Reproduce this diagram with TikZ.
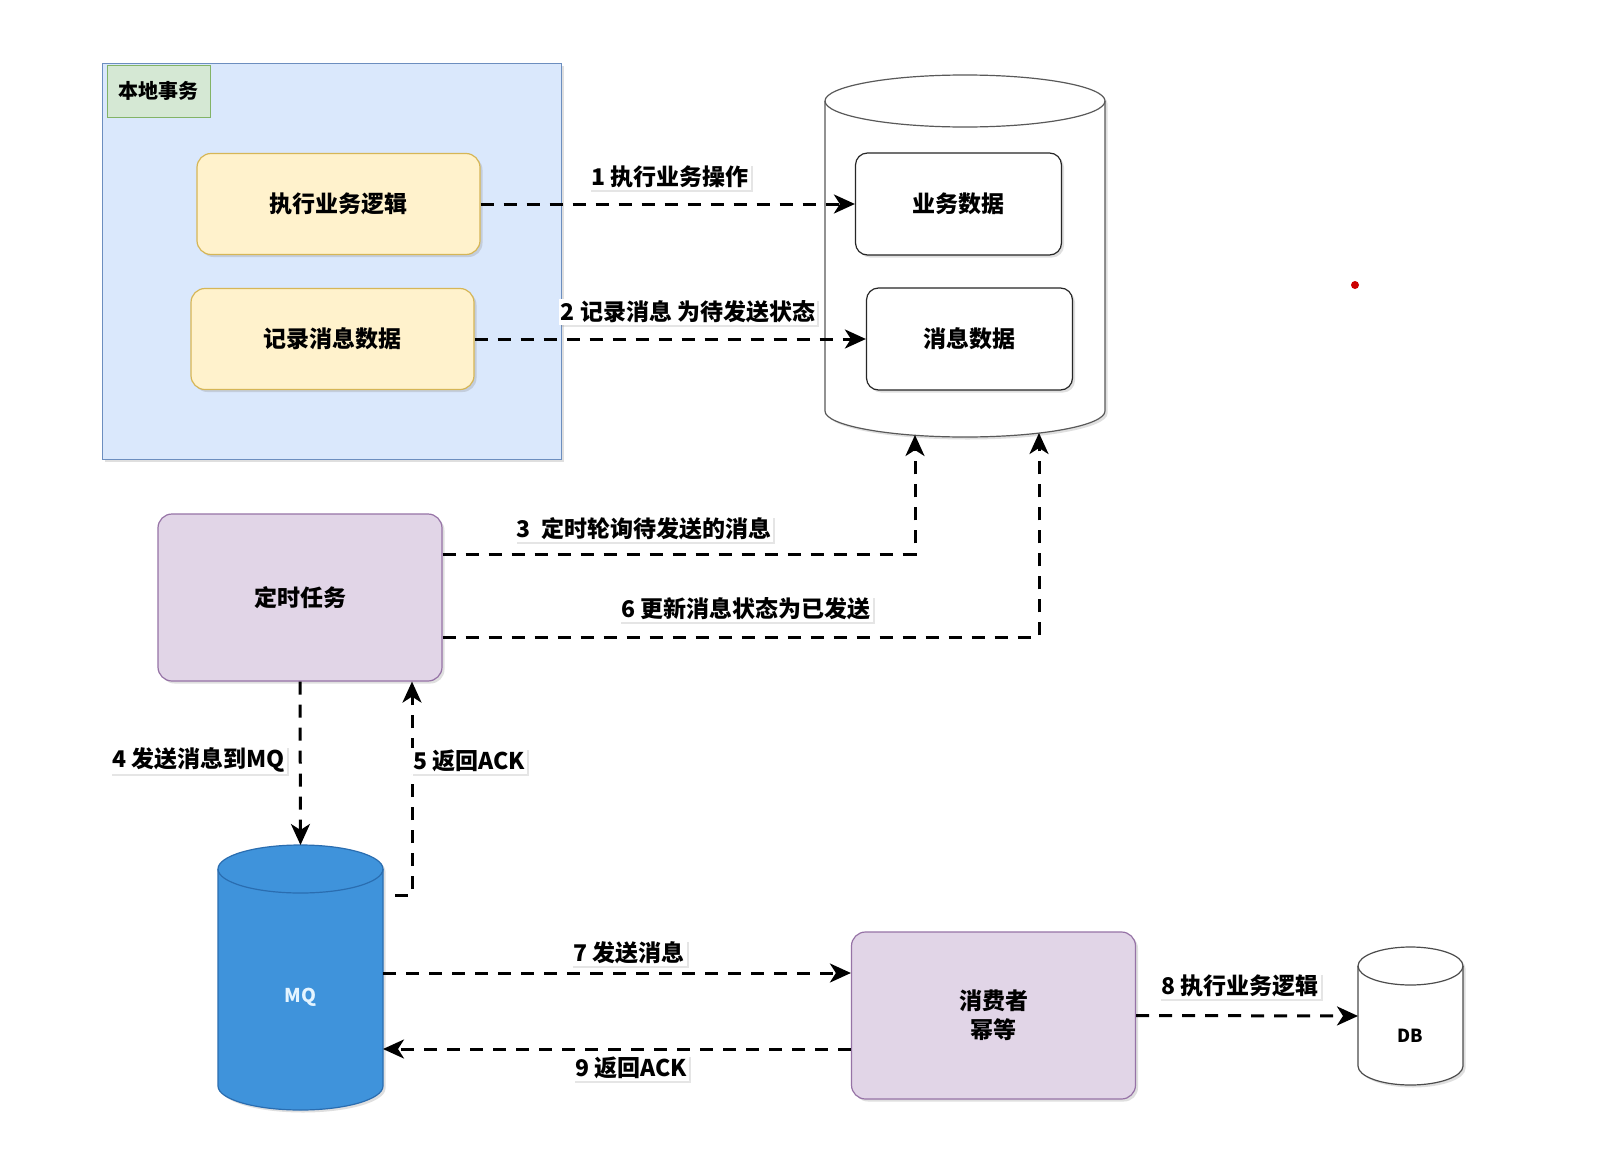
\documentclass[tikz,border=0pt]{standalone}
\usepackage{fontspec}
\setmainfont{Noto Sans CJK SC}
\usetikzlibrary{arrows.meta,shadows}
\definecolor{txfill}{HTML}{DAE8FC}
\definecolor{txline}{HTML}{6C8EBF}
\definecolor{tagfill}{HTML}{D5E8D4}
\definecolor{tagline}{HTML}{82B366}
\definecolor{yfill}{HTML}{FFF2CC}
\definecolor{yline}{HTML}{D6B656}
\definecolor{pfill}{HTML}{E1D5E7}
\definecolor{pline}{HTML}{9673A6}
\definecolor{mqfill}{HTML}{3F93DB}
\definecolor{mqline}{HTML}{2A6DB0}
\definecolor{mqtext}{HTML}{E4F4FF}
% node name, x radius, y radius, fill, draw
\newcommand{\drum}[5]{%
  \draw[fill=#4,draw=#5,line width=1.2pt,shd]
    ([yshift=-#3]#1.north west) -- ([yshift=#3]#1.south west)
    arc[start angle=180,end angle=360,x radius=#2,y radius=#3]
    -- ([yshift=-#3]#1.north east)
    arc[start angle=0,end angle=180,x radius=#2,y radius=#3] -- cycle;
  \draw[draw=#5,line width=1.2pt]
    ([yshift=-#3]#1.north west) arc[start angle=180,end angle=360,x radius=#2,y radius=#3];}

\begin{document}
\begin{tikzpicture}[x=1pt,y=-1pt,
  shd/.style={drop shadow={opacity=0.25,shadow xshift=2.5pt,shadow yshift=-2.5pt}},
  box/.style={draw,rounded corners=14pt,line width=1.2pt,shd,align=center,
    font=\fontsize{23}{29}\selectfont\bfseries},
  ybox/.style={box,fill=yfill,draw=yline,minimum width=283pt,minimum height=101pt},
  pbox/.style={box,fill=pfill,draw=pline,minimum width=284pt,minimum height=167pt},
  dbox/.style={box,fill=white,draw=black!85,rounded corners=12pt,minimum width=206pt,minimum height=102pt},
  can/.style={inner sep=0pt,outer sep=0pt},
  flow/.style={line width=3pt,dash pattern=on 13pt off 10pt,
    -{Stealth[length=21pt,width=19pt,inset=6pt]}},
  lbl/.style={fill=white,inner sep=2pt,font=\fontsize{23}{28}\selectfont\bfseries,
    drop shadow={opacity=0.2,shadow xshift=2pt,shadow yshift=-2pt}}
]
  \fill[white] (0,0) rectangle (1610,1170);

  \node[draw=txline,fill=txfill,line width=1.5pt,shd,minimum width=459pt,minimum height=396pt] (tx) at (332,261.5) {};
  \node[draw=tagline,fill=tagfill,line width=1pt,minimum width=103pt,minimum height=52pt,
    font=\fontsize{20}{24}\selectfont\bfseries] (tag) at (158.5,91) {本地事务};

  \node[ybox] (exec) at (338.5,204) {执行业务逻辑};
  \node[ybox] (rec)  at (332.5,339) {记录消息数据};

  \node[can,minimum width=280pt,minimum height=362pt] (store) at (965,256) {};
  \drum{store}{140pt}{26pt}{white}{black!65}
  \node[dbox] (biz) at (958.5,204) {业务数据};
  \node[dbox] (msg) at (969.5,339) {消息数据};

  \node[pbox] (timer) at (300,597.5) {定时任务};

  \node[can,minimum width=165pt,minimum height=265pt] (mq) at (300.5,977.5) {};
  \drum{mq}{82.5pt}{24pt}{mqfill}{mqline}
  \node[text=mqtext,font=\fontsize{19}{22}\selectfont\bfseries] (mqt) at ([yshift=-20pt]mq.center) {MQ};

  \node[pbox] (cons) at (993.5,1015.5) {消费者\\幂等};

  \node[can,minimum width=105pt,minimum height=138pt] (db) at (1410.5,1016) {};
  \drum{db}{52.5pt}{19pt}{white}{black!70}
  \node[font=\fontsize{18}{22}\selectfont\bfseries] (dbt) at ([yshift=-20pt]db.center) {DB};

  \fill[red!80!black] (1355,285) circle (4);

  \coordinate (in7)  at ([yshift=42.5pt]cons.west);
  \coordinate (out9) at ([yshift=-33.5pt]cons.west);

  \draw[flow] (exec.east) -- (biz.west);
  \draw[flow] (rec.east) -- (msg.west);
  \draw[flow] ([yshift=43.5pt]timer.east) -| ([xshift=-50pt,yshift=2pt]store.south);
  \draw[flow] ([yshift=-39.5pt]timer.east) -| ([xshift=74pt,yshift=4pt]store.south);
  \draw[flow] (timer.south) -- (mq.north);
  \draw[flow] ([xshift=12pt,yshift=82.5pt]mq.east) -| ([xshift=112pt]timer.south);
  \draw[flow] (mq.east |- in7) -- (in7);
  \draw[flow] (cons.east) -- (db.west);
  \draw[flow] (out9) -- (mq.east |- out9);

  \node[lbl] (l1) at (670,177) {1 执行业务操作};
  \node[lbl] (l2) at (688,312) {2 记录消息 为待发送状态};
  \node[lbl] (l3) at (644,529) {3\ \ 定时轮询待发送的消息};
  \node[lbl] (l6) at (746,609) {6 更新消息状态为已发送};
  \node[lbl,anchor=east] (l4) at (287,760) {4 发送消息到MQ};
  \node[lbl,anchor=west] (l5) at (411,761) {5 返回ACK};
  \node[lbl] (l7) at (629,953) {7 发送消息};
  \node[lbl] (l9) at (631,1068) {9 返回ACK};
  \node[lbl] (l8) at (1240,986) {8 执行业务逻辑};
\end{tikzpicture}
\end{document}
